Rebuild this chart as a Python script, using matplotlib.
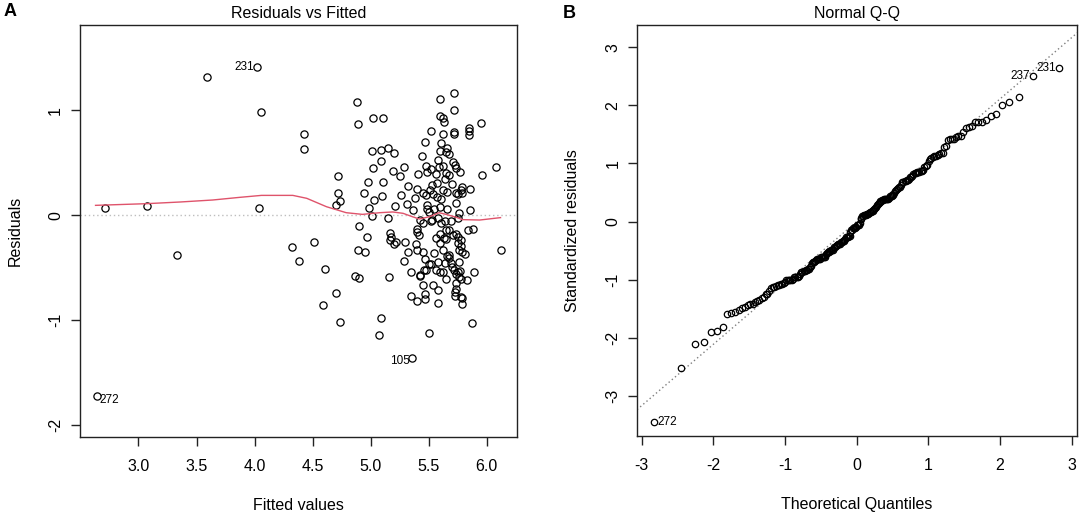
import numpy as np
import matplotlib
matplotlib.use("Agg")
import matplotlib.pyplot as plt
from statistics import NormalDist

plt.rcParams['font.family'] = ['Liberation Sans', 'DejaVu Sans']

# labelled observations come first: 272, 231, 105, 237
obs_ids = ["272", "231", "105", "237"]

fitted = [2.64, 4.02, 5.36, 3.59,
          2.71, 3.07, 3.33, 4.06, 4.04, 4.32, 4.38, 4.43, 4.43, 4.51,
          4.61, 4.59, 4.70, 4.74, 4.70, 4.72, 4.74, 4.72, 4.88, 4.89,
          4.90, 4.89, 4.87, 4.90, 4.95, 4.97, 4.94, 4.98, 4.99, 5.01,
          5.01, 5.02, 5.03, 5.02, 5.11, 5.09, 5.09, 5.11, 5.10, 5.15,
          5.20, 5.19, 5.15, 5.21, 5.09, 5.07, 5.16, 5.17, 5.18, 5.17,
          5.20, 5.22, 5.25, 5.26, 5.29, 5.31, 5.32, 5.30, 5.32, 5.29,
          5.35, 5.35, 5.37, 5.38, 5.40, 5.41, 5.39, 5.40, 5.40, 5.40,
          5.42, 5.40, 5.43, 5.45, 5.45, 5.44, 5.47, 5.47, 5.47, 5.47,
          5.48, 5.50, 5.50, 5.48, 5.49, 5.48, 5.49, 5.50, 5.52, 5.52,
          5.53, 5.54, 5.56, 5.55, 5.54, 5.56, 5.58, 5.58, 5.57, 5.58,
          5.60, 5.60, 5.62, 5.63, 5.62, 5.61, 5.60, 5.62, 5.65, 5.66,
          5.65, 5.68, 5.68, 5.60, 5.62, 5.61, 5.60, 5.60, 5.62, 5.60,
          5.64, 5.65, 5.65, 5.66, 5.64, 5.65, 5.68, 5.68, 5.70, 5.72,
          5.72, 5.72, 5.72, 5.73, 5.74, 5.74, 5.74, 5.75, 5.76, 5.75,
          5.74, 5.75, 5.76, 5.76, 5.74, 5.73, 5.73, 5.74, 5.77, 5.78,
          5.79, 5.78, 5.79, 5.81, 5.79, 5.79, 5.78, 5.77, 5.85, 5.85,
          5.85, 5.86, 5.86, 5.84, 5.88, 5.83, 5.89, 5.87, 5.95, 5.96,
          6.08, 6.12,
          5.71, 5.52, 5.51, 5.66, 5.79, 5.45, 5.59, 5.43, 5.45, 5.53,
          5.58, 5.61, 5.63, 5.71, 5.75, 5.78, 5.52, 5.68, 5.69, 5.72,
          5.75, 5.76, 5.62, 5.43, 5.46, 5.74, 5.78, 5.55, 5.66, 5.49,
          5.57, 5.70, 5.64, 5.69, 5.58, 5.56]

resid = [-1.72, 1.41, -1.36, 1.32,
         0.07, 0.09, -0.38, 0.98, 0.07, -0.30, -0.44, 0.77, 0.63, -0.26,
         -0.51, -0.86, -0.74, -1.02, 0.10, 0.21, 0.13, 0.37, 1.08, 0.87,
         -0.10, -0.33, -0.58, -0.60, -0.35, -0.21, 0.21, 0.32, 0.07, -0.01,
         0.61, 0.45, 0.14, 0.93, 0.93, 0.62, 0.52, 0.32, 0.18, 0.64,
         0.59, 0.42, -0.03, 0.09, -0.98, -1.14, -0.59, -0.17, -0.21, -0.24,
         -0.28, -0.26, 0.37, 0.19, 0.46, 0.11, 0.28, -0.26, -0.35, -0.44,
         -0.54, -0.77, 0.05, 0.16, 0.25, 0.39, -0.28, -0.33, -0.13, -0.16,
         -0.19, -0.82, -0.58, -0.67, -0.35, 0.56, 0.70, -0.75, -0.80, -0.42,
         -0.52, -0.47, -1.12, 0.47, 0.41, 0.19, 0.06, 0.03, -0.06, 0.80,
         0.29, 0.20, 0.39, -0.36, -0.67, -0.52, -0.84, -0.71, 0.31, 0.53,
         1.11, 0.94, 0.93, 0.89, 0.77, 0.69, 0.61, 0.47, 0.40, 0.64,
         0.60, 0.58, 0.38, 0.08, 0.24, 0.15, -0.18, -0.27, -0.33, -0.54,
         -0.06, -0.14, -0.23, -0.39, -0.46, -0.61, -0.14, -0.38, -0.49, 1.16,
         1.00, 0.79, 0.77, 0.48, 0.45, 0.21, 0.12, 0.20, 0.02, -0.03,
         -0.18, -0.27, -0.33, -0.45, -0.56, -0.73, -0.77, -0.65, 0.41, 0.24,
         0.21, -0.24, -0.35, -0.37, -0.79, -0.85, -0.61, -0.53, 0.83, 0.80,
         0.76, 0.25, 0.05, -0.14, -0.13, -0.62, -0.54, -1.03, 0.88, 0.38,
         0.46, -0.33,
         0.51, 0.44, 0.24, 0.22, 0.27, 0.21, 0.46, -0.05, -0.08, -0.05,
         -0.03, -0.08, -0.22, -0.19, -0.21, -0.29, -0.47, -0.41, -0.46, -0.52,
         -0.54, -0.59, -0.54, -0.57, -0.52, -0.70, -0.78, 0.06, 0.06, 0.10,
         0.17, 0.30, 0.34, -0.06, -0.45, -0.22]

# red smoother
smooth_x = [2.63, 3.07, 3.36, 3.64, 3.87, 4.06, 4.33, 4.45, 4.62, 4.79, 4.93,
            5.08, 5.19, 5.28, 5.36, 5.42, 5.51, 5.59, 5.65, 5.74, 5.79, 5.94, 6.12]
smooth_y = [0.093, 0.109, 0.125, 0.144, 0.169, 0.188, 0.188, 0.160, 0.080, 0.023,
            0.007, 0.023, 0.030, 0.017, -0.015, -0.037, -0.015, 0.023, 0.007,
            -0.021, -0.043, -0.047, -0.024]

sigma_hat = 0.54
leverage = {"272": 0.15, "231": 0.03, "237": 0.05}

# dotted reference line of the Q-Q panel
qq_line_intercept = 0.0
qq_line_slope = 1.056

fitted = np.array(fitted)
resid = np.array(resid)
n = len(resid)
hat = np.zeros(n)
for k, lab in enumerate(obs_ids):
    if lab in leverage:
        hat[k] = leverage[lab]
std_resid = resid / (sigma_hat * np.sqrt(1 - hat))

order = np.argsort(std_resid)
nd = NormalDist()
theo = np.array([nd.inv_cdf((i + 0.5) / n) for i in range(n)])
qq_y = std_resid[order]
rank = np.empty(n, dtype=int)
rank[order] = np.arange(n)

W, H = 1084, 518
fig = plt.figure(figsize=(W / 100, H / 100), dpi=100)
ax1 = fig.add_axes([80 / W, 81 / H, 437 / W, 412 / H])
ax2 = fig.add_axes([637.3 / W, 82 / H, 439.4 / W, 411 / H])


def style(ax):
    for s in ax.spines.values():
        s.set_linewidth(1.0)
        s.set_color('#222222')
    ax.tick_params(direction='out', length=6.2, width=1.0, labelsize=11.5,
                   color='#222222', pad=6)
    ax.tick_params(axis='x', pad=9.5)
    for t in ax.get_yticklabels():
        t.set_rotation(90)
        t.set_va('center')


pt = dict(ls='none', marker='o', mfc='none', mec='black', mew=0.9)

# panel A
ax1.axhline(0, color='#bebebe', lw=1.0, ls=(0, (1, 2)))
ax1.plot(fitted, resid, ms=5.2, **pt)
ax1.plot(smooth_x, smooth_y, color='#df536b', lw=1.0)
ax1.set_xlim(2.496, 6.262)
ax1.set_ylim(-2.115, 1.812)
ax1.set_xticks([3.0, 3.5, 4.0, 4.5, 5.0, 5.5, 6.0])
ax1.set_xticklabels(['3.0', '3.5', '4.0', '4.5', '5.0', '5.5', '6.0'])
ax1.set_yticks([-2, -1, 0, 1])
ax1.set_yticklabels(['-2', '-1', '0', '1'])
style(ax1)
ax1.set_xlabel('Fitted values', fontsize=11.5, labelpad=17.5)
ax1.set_ylabel('Residuals', fontsize=11.5, labelpad=18)
ax1.set_title('Residuals vs Fitted', fontsize=11.5, pad=5)

lab_offsets_a = {"272": (2, -3, 'left'), "231": (-2, 0, 'right'), "105": (-2, -2, 'right')}
for k, lab in enumerate(obs_ids):
    if lab in lab_offsets_a:
        dx, dy, ha = lab_offsets_a[lab]
        ax1.annotate(lab, (fitted[k], resid[k]), xytext=(dx, dy), textcoords='offset points',
                     ha=ha, va='center', fontsize=8.5)

# panel B
xs = np.array([-3.2, 3.2])
ax2.plot(xs, qq_line_intercept + qq_line_slope * xs, color='#7f7f7f', lw=1.0, ls=(0, (1, 2)))
ax2.plot(theo, qq_y, ms=4.6, **pt)
ax2.set_xlim(-3.063, 3.07)
ax2.set_ylim(-3.693, 3.385)
ax2.set_xticks([-3, -2, -1, 0, 1, 2, 3])
ax2.set_xticklabels(['-3', '-2', '-1', '0', '1', '2', '3'])
ax2.set_yticks([-3, -2, -1, 0, 1, 2, 3])
ax2.set_yticklabels(['-3', '-2', '-1', '0', '1', '2', '3'])
style(ax2)
ax2.set_xlabel('Theoretical Quantiles', fontsize=11.5, labelpad=17.5)
ax2.set_ylabel('Standardized residuals', fontsize=11.5, labelpad=18)
ax2.set_title('Normal Q-Q', fontsize=11.5, pad=5)

lab_offsets_b = {"272": (2, 0, 'left'), "231": (-2, 0, 'right'), "237": (-2, 0, 'right')}
for k, lab in enumerate(obs_ids):
    if lab in lab_offsets_b:
        dx, dy, ha = lab_offsets_b[lab]
        r = rank[k]
        ax2.annotate(lab, (theo[r], qq_y[r]), xytext=(dx, dy), textcoords='offset points',
                     ha=ha, va='center', fontsize=8.5)

fig.text(4 / W, 1 - 12 / H, 'A', fontsize=13, fontweight='bold', va='center')
fig.text(563 / W, 1 - 13 / H, 'B', fontsize=13, fontweight='bold', va='center')

fig.savefig('out.png', dpi=100)
